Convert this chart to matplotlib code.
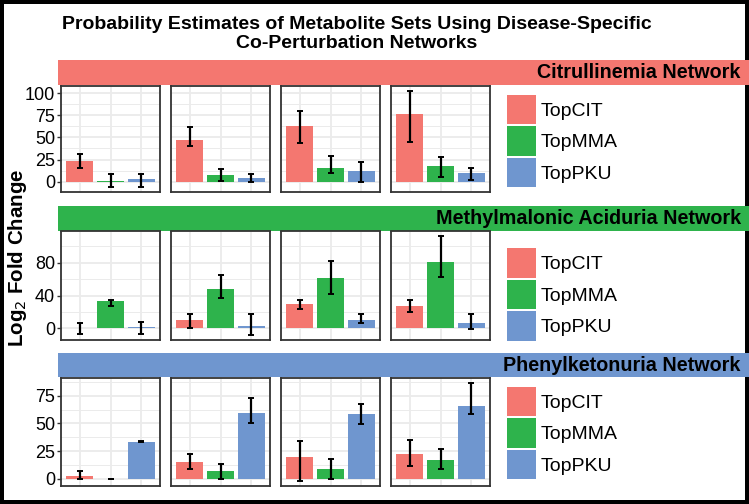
import matplotlib
matplotlib.use("Agg")
import matplotlib.pyplot as plt
import numpy as np

plt.rcParams['font.family'] = ['Liberation Sans', 'DejaVu Sans']

networks = ["Citrullinemia Network", "Methylmalonic Aciduria Network", "Phenylketonuria Network"]
sets = ["TopCIT", "TopMMA", "TopPKU"]
colors = ["#F47770", "#2EB34C", "#6F96CF"]

# mean, lower and upper error bar end, one row per panel (TopCIT, TopMMA, TopPKU)
cit_mean = [[23.7, 0.3, 2.6], [47.2, 7.4, 4.1], [63.0, 15.5, 11.8], [76.8, 18.1, 9.6]]
cit_low = [[15.9, -6.2, -6.0], [39.8, 1.1, -0.3], [43.6, 9.6, -0.3], [44.7, 4.9, 1.5]]
cit_high = [[31.7, 8.9, 8.9], [61.3, 14.0, 8.9], [79.6, 28.8, 22.1], [102.5, 28.1, 15.2]]

mma_mean = [[0.5, 33.0, 1.2], [10.5, 47.7, 2.4], [29.9, 61.8, 10.1], [27.5, 81.2, 6.1]]
mma_low = [[-7.3, 27.5, -7.3], [0.8, 36.4, -8.1], [24.2, 42.4, 6.9], [19.4, 62.6, -1.2]]
mma_high = [[6.9, 34.7, 8.1], [17.0, 65.5, 17.0], [34.3, 82.0, 17.0], [34.3, 111.9, 17.0]]

pku_mean = [[2.1, 0.0, 33.6], [15.3, 6.6, 59.7], [19.8, 8.7, 58.5], [22.5, 17.1, 66.0]]
pku_low = [[-0.4, -0.2, 33.3], [8.4, 0.0, 50.7], [-2.1, -0.3, 49.8], [11.4, 8.4, 59.0]]
pku_high = [[7.2, 0.2, 33.9], [22.1, 13.5, 73.2], [33.8, 17.7, 68.0], [35.1, 26.7, 86.7]]

cit_ticks = [0, 25, 50, 75, 100]
mma_ticks = [0, 40, 80]
pku_ticks = [0, 25, 50, 75]

rows = [
    (cit_mean, cit_low, cit_high, cit_ticks),
    (mma_mean, mma_low, mma_high, mma_ticks),
    (pku_mean, pku_low, pku_high, pku_ticks),
]

W, H = 749, 504
fig = plt.figure(figsize=(W / 100, H / 100), dpi=100)


def px(x, y, w, h):
    return [x / W, 1 - (y + h) / H, w / W, h / H]


panel_left = [61, 171, 281, 391]
panel_w = 99
row_top = [86, 231.5, 378]
row_h = [106, 108.5, 108]
strip_top = [60, 206, 353.3]
strip_h = [24.5, 24.7, 23.6]
legend_center = [141, 294.5, 433]

for r, (means, lows, highs, ticks) in enumerate(rows):
    means = np.array(means)
    lows = np.array(lows)
    highs = np.array(highs)
    lo = min(lows.min(), 0)
    hi = highs.max()
    pad = (hi - lo) * 0.05
    ylim = (lo - pad, hi + pad)
    step = ticks[1] - ticks[0]

    # coloured strip
    sax = fig.add_axes(px(58, strip_top[r], 691, strip_h[r]))
    sax.set_facecolor(colors[r])
    sax.set_xticks([])
    sax.set_yticks([])
    for s in sax.spines.values():
        s.set_visible(False)
    sax.text(0.988, 0.5, networks[r], transform=sax.transAxes, ha='right', va='center',
             fontsize=14.2, fontweight='bold')

    for p in range(4):
        ax = fig.add_axes(px(panel_left[p], row_top[r], panel_w, row_h[r]))
        x = np.arange(1, 4)
        bars = ax.bar(x, means[p], width=0.9, color=colors, zorder=2)
        ax.errorbar(x, means[p], yerr=[means[p] - lows[p], highs[p] - means[p]],
                    fmt='none', ecolor='black', elinewidth=1.6, capsize=2.2, capthick=1.4, zorder=3)
        ax.set_xlim(0.4, 3.6)
        ax.set_xticks(x)
        ax.set_xticklabels([])
        ax.set_yticks(ticks)
        ax.set_yticks([t + step / 2 for t in [ticks[0] - step] + ticks], minor=True)
        ax.set_ylim(*ylim)
        ax.grid(True, which='major', color='#EBEBEB', lw=1.3, zorder=0)
        ax.grid(True, which='minor', axis='y', color='#EBEBEB', lw=0.7, zorder=0)
        ax.set_axisbelow(True)
        ax.tick_params(axis='x', length=0)
        ax.tick_params(axis='y', which='minor', length=0)
        if p == 0:
            ax.tick_params(axis='y', length=3.2, width=1, color='#333333', pad=1, labelsize=13)
        else:
            ax.tick_params(axis='y', length=0, labelleft=False)
        for s in ax.spines.values():
            s.set_color('#333333')
            s.set_linewidth(1.3)
        if p == 3:
            fig.legend(bars, sets, loc='center left',
                       bbox_to_anchor=(507 / W, 1 - legend_center[r] / H),
                       frameon=False, fontsize=14, handlelength=1.5, handleheight=1.95,
                       labelspacing=0.1, handletextpad=0.25, borderpad=0, borderaxespad=0)

fig.text(357 / W, 1 - 34 / H, "Probability Estimates of Metabolite Sets Using Disease-Specific\nCo-Perturbation Networks",
         ha='center', va='center', fontsize=14, fontweight='bold', linespacing=1.2)

fig.text(17.5 / W, 1 - 258 / H, "Log$_2$ Fold Change", rotation=90, ha='center', va='center',
         fontsize=14.8, fontweight='bold')

fig.patch.set_edgecolor('black')
fig.patch.set_linewidth(4.5)

fig.savefig("out.png", dpi=100)
